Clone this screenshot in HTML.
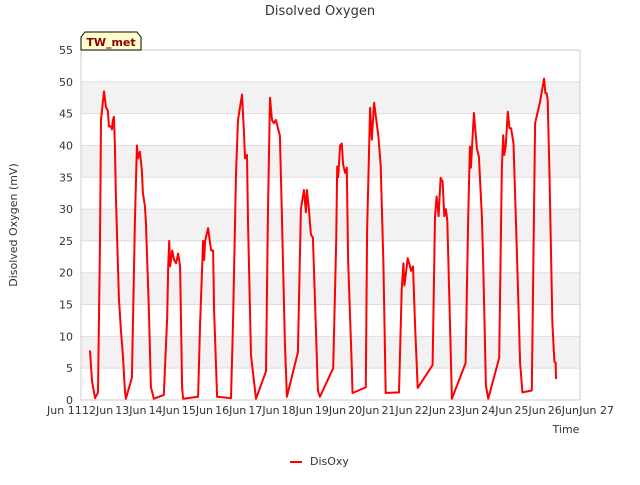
<!DOCTYPE html>
<html><head><meta charset="utf-8"><style>
body{margin:0;background:#fff;font-family:"Liberation Sans","DejaVu Sans",sans-serif;}
svg text{font-family:"DejaVu Sans","Liberation Sans",sans-serif;}
</style></head><body>
<svg id="chart" width="640" height="480">
<text x="320" y="15" text-anchor="middle" font-size="13" fill="#333">Disolved Oxygen</text>
<g id="bands"></g><g id="grid"></g>
<rect x="81" y="50" width="499" height="350" fill="none" stroke="#ccc"/>
<g id="yticks"></g><g id="xticks"></g>
<text transform="translate(17,225) rotate(-90)" text-anchor="middle" font-size="11" fill="#333">Disolved Oxygen (mV)</text>
<text x="566" y="433" text-anchor="middle" font-size="11" fill="#333">Time</text>
<g><path d="M81,50 L81,37 L85,32 L137,32 L141,37 L141,50 Z" fill="#ffffcc" stroke="#000"/><text x="111" y="46" text-anchor="middle" font-size="11" font-weight="bold" fill="#8b0000">TW_met</text></g>
<path id="line" fill="none" stroke="#ff0000" stroke-width="2" stroke-linejoin="round"/>
<g><line x1="290" y1="462" x2="302" y2="462" stroke="#ff0000" stroke-width="2"/><text x="310" y="465" font-size="11" fill="#333">DisOxy</text></g>
</svg>
<script>
const yTicks=[0,5,10,15,20,25,30,35,40,45,50,55];
const xTickDays=[11,12,13,14,15,16,17,18,19,20,21,22,23,24,25,26,27];
const xTickLabels=["Jun 11","12Jun","13Jun","14Jun","15Jun","16Jun","17Jun","18Jun","19Jun","20Jun","21Jun","22Jun","23Jun","24Jun","25Jun","26Jun","Jun 27"];
const times=[11.77,11.83,11.92,12.01,12.07,12.10,12.19,12.25,12.31,12.34,12.40,12.43,12.46,12.49,12.52,12.55,12.64,12.70,12.76,12.82,12.85,13.03,13.12,13.18,13.21,13.27,13.33,13.36,13.42,13.45,13.54,13.60,13.69,13.99,14.09,14.12,14.15,14.18,14.24,14.30,14.36,14.42,14.48,14.54,14.57,15.02,15.08,15.17,15.20,15.23,15.32,15.41,15.47,15.50,15.59,16.01,16.07,16.16,16.22,16.34,16.40,16.43,16.49,16.52,16.61,16.76,17.06,17.12,17.18,17.24,17.30,17.36,17.48,17.54,17.63,17.69,18.02,18.11,18.20,18.26,18.29,18.35,18.41,18.47,18.53,18.62,18.68,19.08,19.17,19.20,19.23,19.29,19.34,19.38,19.44,19.49,19.53,19.64,19.66,20.06,20.10,20.19,20.24,20.31,20.44,20.51,20.59,20.66,21.06,21.14,21.19,21.22,21.27,21.32,21.39,21.42,21.48,21.54,21.62,22.07,22.14,22.19,22.25,22.31,22.37,22.42,22.47,22.51,22.57,22.65,23.06,23.14,23.19,23.22,23.31,23.40,23.46,23.55,23.59,23.67,23.74,24.07,24.15,24.19,24.22,24.27,24.33,24.38,24.43,24.50,24.57,24.66,24.70,24.77,25.05,25.15,25.30,25.42,25.46,25.50,25.53,25.58,25.67,25.73,25.77,25.78];
const values=[7.8,3,0.3,1.2,25,44,48.5,46,45.5,43,43,42.5,44,44.5,40,32,16,11,7,1.5,0.2,3.5,28,40,38,39,36,32.5,30.5,28,14,2,0.2,0.8,13,21,25,21,23.5,22,21.5,23,21,2,0.2,0.5,12,25,22,25,27,23.5,23.5,14,0.5,0.3,12,35.5,44,48,42,38,38.5,28,7,0.2,4.5,30,47.5,44,43.5,44,41.5,29,9,0.5,7.5,30,33,29.5,33,30,26,25.5,16,1.5,0.5,5,25,36.7,35,40,40.3,37,35.7,36.5,22,5.2,1.1,2,26.7,45.9,40.9,46.7,41.4,36.8,21.5,1.1,1.2,17.3,21.5,18,20,22.3,21,20.3,21,12,1.9,5.5,28.8,32,28.9,34.9,34.3,28.9,30,28.2,16.2,0.2,5.8,28.8,39.8,36.5,45.1,39.5,38.2,28.8,21.5,2.3,0.2,6.6,36.1,41.6,38.5,40,45.3,42.7,42.7,40.3,28.8,13.1,5.8,1.2,1.5,43.5,46.9,50.5,48.2,48.2,47.1,36.1,12,6,5.9,3.3];
const X0=81,X1=580,Y0=400,Y1=50,D0=11.5,D1=26.5,V0=0,V1=55;
const xs=d=>X0+(d-D0)/(D1-D0)*(X1-X0);
const ys=v=>Y0-(v-V0)/(V1-V0)*(Y0-Y1);
const NS="http://www.w3.org/2000/svg";
const bands=document.getElementById('bands'),grid=document.getElementById('grid'),yt=document.getElementById('yticks'),xt=document.getElementById('xticks');
for(let i=0;i<yTicks.length-1;i++){
 if(i%2===1){const r=document.createElementNS(NS,'rect');
  r.setAttribute('x',X0);r.setAttribute('width',X1-X0);
  r.setAttribute('y',ys(yTicks[i+1]));r.setAttribute('height',ys(yTicks[i])-ys(yTicks[i+1]));
  r.setAttribute('fill','#f2f2f2');
  
  
  bands.appendChild(r);}
}
yTicks.forEach(v=>{
 const l=document.createElementNS(NS,'line');
 l.setAttribute('x1',X0);l.setAttribute('x2',X1);l.setAttribute('y1',ys(v));l.setAttribute('y2',ys(v));l.setAttribute('stroke','#dddddd');
 
 
 grid.appendChild(l);
 const t=document.createElementNS(NS,'text');
 t.setAttribute('x',X0-8);t.setAttribute('y',ys(v)+4);t.setAttribute('text-anchor','end');t.setAttribute('font-size','11');t.setAttribute('fill','#333');
 t.textContent=v;
 
 
 yt.appendChild(t);
});
xTickDays.forEach((d,i)=>{
 const t=document.createElementNS(NS,'text');
 t.setAttribute('x',xs(d));t.setAttribute('y',414);t.setAttribute('text-anchor','middle');t.setAttribute('font-size','11');t.setAttribute('fill','#333');
 t.textContent=xTickLabels[i];
 
 
 xt.appendChild(t);
});
document.getElementById('line').setAttribute('d',times.map((d,i)=>(i?'L':'M')+xs(d).toFixed(1)+','+ys(values[i]).toFixed(1)).join(' '));
</script>
</body></html>
